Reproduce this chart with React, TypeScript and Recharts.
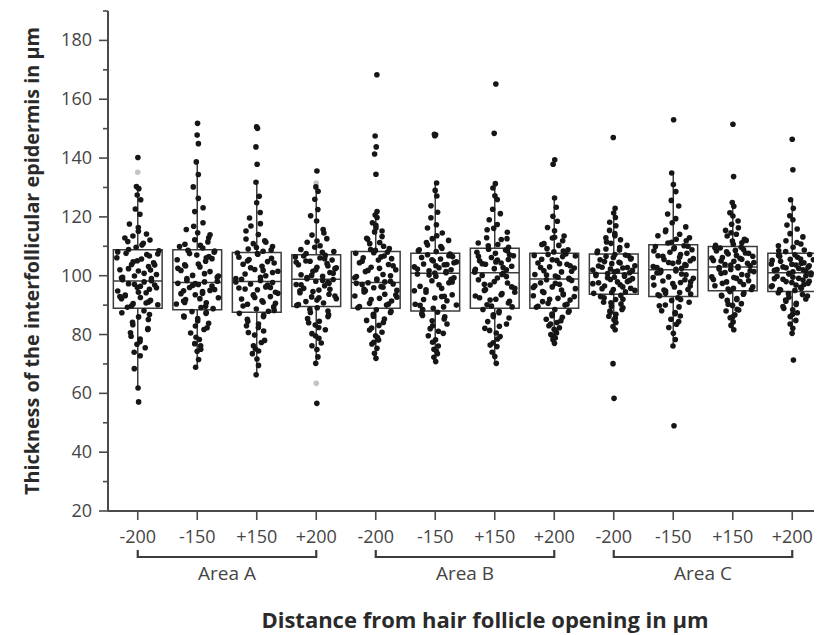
import React from "react";
import {
  ComposedChart,
  XAxis,
  YAxis,
  Scatter,
  ReferenceArea,
  ReferenceLine,
} from "recharts";

// tick / category labels
const DIST_LABELS = [
  "-200", "-150", "+150", "+200",
  "-200", "-150", "+150", "+200",
  "-200", "-150", "+150", "+200",
];
const AREA_LABELS = ["Area A", "Area B", "Area C"];
const AREA_START = [1, 5, 9];
const X_TICKS = [1, 2, 3, 4, 5, 6, 7, 8, 9, 10, 11, 12];
const Y_TICKS = [20, 30, 40, 50, 60, 70, 80, 90, 100, 110, 120, 130, 140, 150, 160, 170, 180, 190];

// box statistics (µm)
const Q1 = [88.9, 88.4, 87.6, 89.5, 88.9, 88.0, 88.9, 88.9, 93.7, 92.9, 94.9, 94.6];
const MEDIAN = [98.2, 97.7, 98.0, 98.8, 97.7, 100.8, 101.0, 98.9, 100.8, 102.0, 103.0, 101.0];
const Q3 = [108.8, 108.8, 107.9, 107.1, 108.2, 107.6, 109.3, 107.6, 107.4, 110.5, 109.9, 107.6];
const WHISKER_LOW = [61.8, 68.9, 66.3, 70.2, 71.9, 70.8, 70.2, 77.0, 81.6, 76.1, 81.6, 80.4];
const WHISKER_HIGH = [130.3, 138.8, 132.0, 130.3, 121.8, 131.5, 131.5, 126.4, 122.9, 134.9, 124.9, 125.8];

// individual measurements (estimated)
const A_M200 = [
  140.2, 130.3, 129.6, 127.4, 125.8, 122.7, 120.9, 117.6, 116.4, 114.2, 113.5, 112.1, 111.6, 110.4, 109.7,
  108.5, 107.6, 107.2, 106.1, 105.7, 104.4, 103.8, 103.1, 102.0, 101.6, 100.4, 99.9, 99.0, 98.6,
  97.9, 97.3, 96.8, 96.0, 95.4, 94.8, 94.2, 93.4, 92.6, 92.2, 91.6, 90.5, 90.1, 89.3,
  88.1, 87.4, 86.0, 85.1, 83.3, 81.7, 80.6, 78.5, 76.7, 75.5, 74.0, 72.8, 68.4, 61.8, 57.1,
  89.8, 91.1, 92.9, 94.4, 95.9, 97.1, 98.3, 99.5, 100.8, 102.4, 103.6, 105.1, 106.7, 108.1, 90.7,
  93.2, 96.4, 99.2, 101.9, 104.7, 107.4, 108.9, 111.0, 112.8, 115.1, 86.8, 84.2, 82.0, 79.4, 77.6,
];
const A_M150 = [
  151.8, 147.8, 144.9, 138.7, 134.4, 130.2, 126.3, 123.1, 121.8, 118.0, 115.7, 114.6, 113.9, 112.2, 111.5, 110.7, 109.4,
  108.6, 108.0, 107.0, 106.5, 105.4, 104.9, 103.7, 103.0, 101.8, 101.4, 100.1, 99.5, 98.4,
  97.9, 97.4, 97.0, 96.5, 96.0, 95.3, 94.9, 94.0, 93.5, 92.5, 91.9, 90.8, 90.4, 89.2, 88.8,
  87.8, 87.2, 86.3, 85.4, 83.8, 82.9, 81.7, 80.5, 78.3, 76.9, 75.0, 74.3, 71.5, 68.9,
  89.6, 90.9, 92.2, 93.9, 95.0, 96.7, 98.1, 99.0, 100.7, 102.5, 104.0, 105.8, 107.5, 108.4, 91.4,
  94.6, 97.3, 99.9, 103.3, 106.1, 109.9, 110.3, 112.9, 116.8, 87.5, 86.0, 84.6, 82.3, 79.1, 76.2,
];
const A_P150 = [
  150.6, 150.1, 143.8, 137.9, 131.8, 127.0, 124.8, 121.5, 119.6, 117.7, 116.9, 114.0, 112.5, 111.4, 110.9, 109.9, 109.1, 108.3,
  107.7, 107.3, 105.9, 105.5, 104.3, 103.9, 103.2, 102.1, 101.5, 100.6, 100.0, 99.0, 98.4,
  97.7, 97.2, 96.8, 95.8, 95.2, 94.4, 93.5, 92.9, 92.1, 91.0, 90.3, 89.4, 88.7, 87.9,
  87.2, 86.1, 85.2, 83.6, 83.0, 81.2, 79.8, 78.0, 76.2, 74.4, 73.5, 71.7, 69.5, 66.3,
  88.2, 89.7, 91.5, 92.6, 94.0, 95.5, 96.2, 97.9, 99.5, 101.1, 102.7, 104.8, 106.3, 107.5, 90.6,
  93.3, 96.0, 98.8, 101.8, 105.0, 108.7, 109.6, 111.9, 115.2, 86.6, 84.5, 82.4, 80.7, 77.3, 75.1,
];
const A_P200 = [
  135.6, 130.2, 128.7, 126.0, 122.5, 120.4, 118.6, 115.7, 113.8, 112.6, 111.4, 110.2, 109.7, 108.2, 107.5,
  106.9, 106.4, 106.0, 105.3, 104.9, 104.1, 103.7, 102.9, 102.4, 101.5, 101.1, 100.3, 99.8, 99.0,
  98.7, 98.1, 97.8, 97.0, 96.6, 95.7, 95.1, 94.2, 93.7, 92.8, 92.2, 91.2, 90.7, 89.9,
  89.1, 88.0, 87.5, 86.1, 85.4, 84.5, 83.2, 81.6, 80.3, 78.7, 76.2, 74.9, 72.4, 70.2, 56.6,
  90.2, 91.7, 93.1, 94.6, 95.4, 96.9, 98.4, 99.4, 100.8, 102.0, 103.3, 104.6, 105.8, 106.7, 92.5,
  94.9, 97.4, 100.1, 102.7, 105.0, 108.0, 108.9, 111.8, 114.5, 88.6, 86.7, 84.0, 82.4, 79.5, 77.1,
];
const B_M200 = [
  168.3, 147.5, 143.8, 141.4, 134.5, 121.8, 120.6, 119.8, 118.0, 117.1, 115.2, 114.9, 113.3, 112.4, 111.3, 110.9, 109.2, 108.6,
  108.0, 107.6, 106.7, 106.1, 105.3, 104.4, 103.8, 102.9, 102.0, 101.4, 100.4, 99.7, 98.9, 98.1,
  97.6, 97.2, 97.0, 96.3, 95.9, 95.0, 94.5, 93.7, 93.1, 92.3, 91.4, 90.6, 90.0, 89.1,
  88.4, 87.5, 86.9, 85.3, 84.8, 83.1, 82.2, 80.8, 79.6, 78.1, 76.8, 75.3, 73.6, 71.9,
  89.5, 90.4, 91.9, 93.4, 94.9, 96.1, 97.4, 98.5, 100.0, 101.8, 103.4, 104.9, 106.4, 107.8, 92.7,
  95.4, 97.9, 99.3, 102.5, 105.8, 108.9, 110.0, 112.7, 116.2, 87.9, 86.2, 84.1, 81.5, 79.0, 77.4,
];
const B_M150 = [
  148.1, 147.9, 147.6, 131.5, 129.0, 127.1, 123.8, 121.6, 119.7, 117.3, 116.2, 114.5, 112.6, 112.0, 110.4, 109.9, 108.8, 108.2,
  107.4, 107.1, 106.5, 106.2, 105.7, 105.0, 104.7, 104.0, 103.7, 103.0, 102.7, 102.0, 101.7, 101.0,
  100.6, 99.8, 99.3, 98.3, 97.6, 96.4, 95.7, 94.4, 93.5, 92.4, 91.5, 90.3, 89.4, 88.5,
  87.6, 86.5, 86.0, 84.7, 83.6, 82.0, 81.1, 79.6, 78.2, 76.1, 75.0, 73.5, 72.3, 70.8,
  88.9, 90.0, 91.9, 93.0, 94.9, 96.9, 98.8, 100.2, 101.4, 102.3, 103.4, 104.4, 105.4, 106.8, 89.9,
  92.9, 95.2, 97.9, 100.9, 103.8, 108.5, 109.3, 111.3, 113.6, 87.1, 85.3, 83.0, 80.4, 77.4, 74.4,
];
const B_P150 = [
  165.2, 148.4, 131.3, 129.8, 127.2, 125.9, 122.6, 121.1, 119.0, 117.4, 116.1, 114.8, 112.9, 112.3, 111.1, 110.6, 109.7,
  109.0, 108.7, 108.0, 107.6, 106.8, 106.2, 105.5, 105.1, 104.3, 103.9, 103.2, 102.4, 102.0, 101.2,
  100.8, 100.1, 99.2, 98.6, 97.5, 96.8, 95.7, 95.0, 93.9, 93.1, 92.0, 91.3, 90.1, 89.4,
  88.5, 87.4, 86.7, 85.6, 84.4, 82.8, 82.1, 80.5, 79.3, 77.2, 75.9, 74.0, 72.5, 70.2,
  89.7, 90.7, 92.5, 93.5, 95.3, 96.2, 98.0, 99.7, 101.6, 102.8, 104.1, 105.3, 106.6, 108.4, 91.7,
  94.4, 97.1, 100.4, 102.2, 104.7, 107.1, 110.2, 112.6, 115.6, 87.9, 86.1, 83.6, 81.4, 78.5, 76.4,
];
const B_P200 = [
  139.4, 137.9, 126.4, 123.3, 120.2, 118.5, 116.4, 115.3, 113.5, 112.8, 111.9, 110.9, 110.3, 109.2, 108.8, 108.1,
  107.4, 106.9, 106.5, 105.6, 105.2, 104.3, 103.9, 103.0, 102.6, 101.7, 101.3, 100.4, 99.9, 99.1,
  98.6, 98.4, 97.6, 97.1, 96.2, 95.6, 94.6, 93.8, 93.2, 92.3, 91.7, 90.6, 90.0, 89.3,
  88.5, 87.6, 87.0, 85.9, 85.2, 84.1, 83.6, 82.3, 81.8, 80.5, 80.0, 78.8, 78.2, 77.0,
  89.6, 90.3, 92.0, 92.9, 94.3, 95.1, 96.6, 97.4, 98.9, 100.2, 101.5, 102.8, 104.1, 105.4, 106.7,
  91.2, 93.5, 96.0, 99.5, 103.4, 107.2, 108.4, 110.6, 113.1, 88.0, 86.4, 84.7, 83.0, 81.2, 79.4,
];
const C_M200 = [
  147.0, 122.9, 121.3, 119.8, 118.2, 117.0, 115.4, 114.3, 112.9, 112.2, 111.0, 110.3, 109.1, 108.7, 107.8,
  107.2, 106.8, 106.6, 105.9, 105.4, 104.6, 104.1, 103.4, 102.9, 102.6, 101.9, 101.6, 101.0,
  100.7, 100.3, 100.1, 99.5, 99.0, 98.7, 98.0, 97.6, 96.9, 96.5, 95.7, 95.3, 94.5, 94.0,
  93.3, 92.5, 91.9, 91.0, 90.4, 89.6, 88.5, 88.0, 86.9, 86.2, 85.0, 84.1, 82.7, 81.6, 70.1, 58.3,
  94.3, 95.0, 95.6, 96.2, 97.3, 97.9, 98.4, 99.3, 99.8, 100.5, 101.3, 101.8, 102.3, 102.8, 103.3,
  104.3, 104.8, 105.7, 106.2, 107.0, 108.4, 109.6, 111.5, 113.6, 92.9, 92.0, 90.8, 89.1, 87.5, 85.6,
];
const C_M150 = [
  153.0, 134.9, 131.0, 128.6, 125.6, 123.7, 121.0, 119.4, 118.0, 116.6, 115.5, 114.1, 113.6, 112.4, 111.9, 111.1,
  110.2, 109.9, 109.2, 108.8, 108.0, 107.6, 106.8, 106.3, 105.5, 105.1, 104.2, 103.8, 103.1, 102.5,
  101.8, 101.6, 100.9, 100.3, 99.6, 99.1, 98.2, 97.7, 96.8, 96.2, 95.3, 94.8, 93.8, 93.2,
  92.5, 91.6, 91.0, 90.0, 89.4, 88.1, 87.5, 86.3, 85.2, 83.5, 82.4, 80.4, 78.3, 76.1, 49.0,
  93.5, 94.3, 95.1, 96.5, 97.3, 98.6, 99.4, 100.6, 101.3, 102.2, 102.8, 103.5, 104.5, 105.8, 106.6,
  107.2, 108.4, 109.5, 110.0, 94.0, 97.9, 101.0, 104.7, 111.4, 112.9, 115.0, 91.9, 89.8, 87.1, 84.4,
];
const C_P150 = [
  151.5, 133.7, 124.9, 123.6, 121.4, 120.3, 118.6, 117.5, 116.3, 115.4, 114.1, 113.5, 112.4, 111.8, 111.2, 110.3,
  109.7, 109.4, 108.6, 108.4, 107.7, 107.4, 106.6, 106.2, 105.9, 105.2, 104.9, 104.2, 103.8, 103.4,
  102.8, 102.6, 102.1, 101.4, 100.8, 100.4, 99.6, 99.1, 98.3, 97.9, 97.0, 96.6, 95.7, 95.3,
  94.6, 93.7, 93.1, 92.2, 91.6, 90.5, 89.9, 88.6, 88.0, 86.7, 85.7, 84.3, 83.1, 81.6,
  95.5, 96.2, 97.4, 98.0, 98.7, 99.4, 100.1, 101.1, 101.7, 102.3, 103.1, 103.6, 104.5, 105.0, 105.6,
  106.0, 106.9, 107.6, 108.1, 108.9, 109.5, 110.7, 112.0, 114.6, 94.1, 93.3, 91.9, 90.3, 88.3, 86.0,
];
const C_P200 = [
  146.4, 136.0, 125.8, 122.9, 120.4, 119.0, 117.2, 115.9, 114.3, 113.2, 111.9, 111.3, 110.2, 109.7, 108.7, 108.2,
  107.2, 106.9, 106.3, 105.6, 105.4, 104.9, 104.2, 104.0, 103.6, 102.9, 102.7, 102.0, 101.8, 101.3,
  100.9, 100.6, 100.0, 99.8, 99.1, 98.8, 98.1, 97.7, 97.0, 96.6, 96.1, 95.3, 95.0,
  94.2, 93.6, 92.7, 92.1, 91.3, 90.2, 89.5, 88.4, 87.4, 86.1, 84.8, 83.6, 82.1, 80.4, 71.3,
  95.1, 95.7, 96.3, 96.8, 97.4, 98.0, 98.5, 99.0, 99.5, 100.3, 100.8, 101.5, 102.1, 102.5, 103.0,
  103.4, 103.9, 104.4, 105.2, 105.7, 106.6, 107.1, 108.5, 110.8, 93.9, 93.1, 91.7, 90.6, 88.9, 86.9,
];
const GROUP_POINTS = [A_M200, A_M150, A_P150, A_P200, B_M200, B_M150, B_P150, B_P200, C_M200, C_M150, C_P150, C_P200];

// faint grey markers (percentile markers in the original)
const GREY_GROUP = [1, 4, 4];
const GREY_VALUE = [135.2, 131.5, 63.4];

// hand-picked horizontal scatter pattern
const JITTER = [
  0.12, -0.74, 0.58, -0.21, 0.91, -0.47, 0.33, -0.88, 0.05, 0.67, -0.35, 0.79, -0.62,
  0.24, -0.09, 0.96, -0.53, 0.41, -0.95, 0.17, 0.72, -0.28, 0.49, -0.81, 0.03, 0.85,
  -0.15, 0.62, -0.69, 0.29, -0.42, 0.77, -0.02, 0.53, -0.91, 0.38, -0.57,
];

const W = 814;
const H = 627;
const Y_AXIS_W = 100;
const PX_PER_GROUP = (W - Y_AXIS_W) / 12;
const BOX_HALF = 0.41;
const AXIS = "#4a4a4a";
const LINE = "#3c3c3c";
const TEXT = "#454545";
const FONT = "'Open Sans', 'DejaVu Sans', sans-serif";

function spread(v: number, g: number) {
  const lo = Q1[g];
  const hi = Q3[g];
  if (v >= lo && v <= hi) return 0.37;
  if (v > hi) {
    if (v > WHISKER_HIGH[g]) return 0.02;
    const d = (v - hi) / (WHISKER_HIGH[g] - hi);
    return 0.03 + 0.3 * Math.pow(1 - d, 1.6);
  }
  if (v < WHISKER_LOW[g]) return 0.02;
  const d = (lo - v) / (lo - WHISKER_LOW[g]);
  return 0.03 + 0.3 * Math.pow(1 - d, 1.6);
}

const points = GROUP_POINTS.flatMap((vals, g) =>
  vals.map((v, k) => ({
    x: g + 1 + JITTER[(k + g * 13) % JITTER.length] * spread(v, g),
    y: v,
  }))
);
const greyPoints = GREY_GROUP.map((g, i) => ({ x: g, y: GREY_VALUE[i] }));

function YTick(props: any) {
  const { y, payload } = props;
  const v = payload.value;
  const major = v % 20 === 0 && v <= 180;
  return (
    <g>
      <line x1={Y_AXIS_W - (major ? 9 : 5)} x2={Y_AXIS_W} y1={y} y2={y} stroke={AXIS} strokeWidth={1.6} />
      {major && (
        <text x={Y_AXIS_W - 16} y={y} dy={6} textAnchor="end" fill={TEXT} fontSize={18} fontFamily={FONT}>
          {v}
        </text>
      )}
    </g>
  );
}

// distance label plus, at the first tick of each area, the bracket and area name
function XTick(props: any) {
  const { x, y, payload } = props;
  const v = payload.value;
  const a = AREA_START.indexOf(v);
  const span = PX_PER_GROUP * 3;
  return (
    <g>
      <text x={x} y={y} dy="0.71em" textAnchor="middle" fill={TEXT} fontSize={18} fontFamily={FONT}>
        {DIST_LABELS[v - 1]}
      </text>
      {a >= 0 && (
        <g>
          <path
            d={`M${x},${y + 20}V${y + 27}H${x + span}V${y + 20}`}
            fill="none"
            stroke={LINE}
            strokeWidth={2.2}
          />
          <text
            x={x + span / 2}
            y={y + 50}
            textAnchor="middle"
            fill={TEXT}
            fontSize={19}
            fontFamily={FONT}
          >
            {AREA_LABELS[a]}
          </text>
        </g>
      )}
    </g>
  );
}

function YTitle(props: any) {
  const vb = props.viewBox;
  const cx = 23;
  const cy = vb.y + vb.height / 2;
  return (
    <text
      x={cx}
      y={cy}
      transform={`rotate(-90, ${cx}, ${cy})`}
      textAnchor="middle"
      dominantBaseline="central"
      fontWeight="bold"
      fontSize={19.8}
      fontFamily={FONT}
      fill="#2a2a2a"
    >
      Thickness of the interfollicular epidermis in µm
    </text>
  );
}

function XTitle(props: any) {
  const vb = props.viewBox;
  return (
    <text
      x={vb.x + vb.width / 2 + 20}
      y={vb.y + 117}
      textAnchor="middle"
      fontWeight="bold"
      fontSize={22}
      fontFamily={FONT}
      fill="#2a2a2a"
    >
      Distance from hair follicle opening in µm
    </text>
  );
}

export default function App() {
  return (
    <div style={{ width: W, height: H, background: "#fff" }}>
      <ComposedChart width={W} height={H} margin={{ top: 3, right: 0, bottom: 0, left: 0 }}>
        <XAxis
          dataKey="x"
          type="number"
          domain={[0.5, 12.5]}
          ticks={X_TICKS}
          interval={0}
          height={124}
          tickSize={9}
          tickMargin={10}
          axisLine={{ stroke: AXIS, strokeWidth: 2 }}
          tickLine={{ stroke: AXIS, strokeWidth: 1.6 }}
          tick={(p: any) => <XTick {...p} />}
          label={(p: any) => <XTitle {...p} />}
        />
        <YAxis
          dataKey="y"
          type="number"
          domain={[20, 190]}
          ticks={Y_TICKS}
          interval={0}
          width={Y_AXIS_W}
          tickLine={false}
          axisLine={{ stroke: AXIS, strokeWidth: 2 }}
          tick={(p: any) => <YTick {...p} />}
          label={(p: any) => <YTitle {...p} />}
        />
        {Q1.map((q1, g) => (
          <ReferenceArea
            key={`box-${g}`}
            x1={g + 1 - BOX_HALF}
            x2={g + 1 + BOX_HALF}
            y1={q1}
            y2={Q3[g]}
            fill="none"
            fillOpacity={0}
            stroke={LINE}
            strokeWidth={1.5}
            strokeOpacity={1}
          />
        ))}
        {MEDIAN.map((m, g) => (
          <ReferenceLine
            key={`med-${g}`}
            segment={[{ x: g + 1 - BOX_HALF, y: m }, { x: g + 1 + BOX_HALF, y: m }]}
            stroke={LINE}
            strokeWidth={1.5}
          />
        ))}
        {WHISKER_LOW.map((w, g) => (
          <ReferenceLine
            key={`wl-${g}`}
            segment={[{ x: g + 1, y: w }, { x: g + 1, y: Q1[g] }]}
            stroke={LINE}
            strokeWidth={1.5}
          />
        ))}
        {WHISKER_HIGH.map((w, g) => (
          <ReferenceLine
            key={`wh-${g}`}
            segment={[{ x: g + 1, y: Q3[g] }, { x: g + 1, y: w }]}
            stroke={LINE}
            strokeWidth={1.5}
          />
        ))}
        <Scatter
          data={greyPoints}
          dataKey="y"
          isAnimationActive={false}
          shape={(p: any) => <circle cx={p.cx} cy={p.cy} r={2.8} fill="#c4c4c4" />}
        />
        <Scatter
          data={points}
          dataKey="y"
          isAnimationActive={false}
          shape={(p: any) => <circle cx={p.cx} cy={p.cy} r={2.8} fill="#161616" />}
        />
      </ComposedChart>
    </div>
  );
}
